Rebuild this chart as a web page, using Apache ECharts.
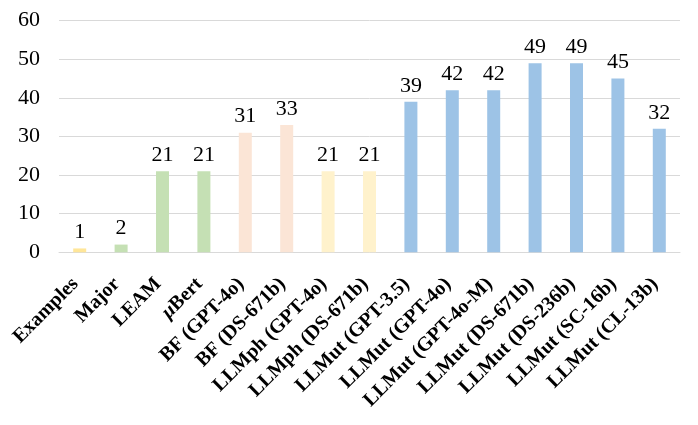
<!DOCTYPE html>
<html><head><meta charset="utf-8">
<script src="https://cdn.jsdelivr.net/npm/echarts@6/dist/echarts.min.js"></script>
<style>html,body{margin:0;padding:0;background:#fff}#c{width:698px;height:425px}</style>
</head><body><div id="c"></div>
<script>
const categories = ["Examples","Major","LEAM","μBert","BF (GPT-4o)","BF (DS-671b)","LLMph (GPT-4o)","LLMph (DS-671b)","LLMut (GPT-3.5)","LLMut (GPT-4o)","LLMut (GPT-4o-M)","LLMut (DS-671b)","LLMut (DS-236b)","LLMut (SC-16b)","LLMut (CL-13b)"];
const values = [1,2,21,21,31,33,21,21,39,42,42,49,49,45,32];
const barColors = ["#FFE699","#C5E0B4","#C5E0B4","#C5E0B4","#FBE5D6","#FBE5D6","#FFF2CC","#FFF2CC","#9DC3E6","#9DC3E6","#9DC3E6","#9DC3E6","#9DC3E6","#9DC3E6","#9DC3E6"];
const yTicks = [0,10,20,30,40,50,60];

const chart = echarts.init(document.getElementById('c'), null, {renderer:'canvas'});
chart.setOption({
  animation:false,
  grid:{left:59,right:18,top:20.7,bottom:172.7,containLabel:false},
  xAxis:{type:'category',data:categories,
    axisLine:{show:true,lineStyle:{color:'#d9d9d9',width:1}},
    axisTick:{show:false},
    axisLabel:{interval:0,rotate:45,margin:33,align:'right',verticalAlign:'bottom',lineHeight:12,color:'#000',fontFamily:'Liberation Serif',fontWeight:'bold',fontSize:20,
      formatter:function(v){ if(v.indexOf('μ')===0){return '{i|μ}'+v.slice(1);} return v; },
      rich:{i:{fontStyle:'italic',fontWeight:'bold',fontFamily:'Liberation Serif',fontSize:20,lineHeight:12,color:'#000'}}
    }},
  yAxis:{type:'value',min:yTicks[0],max:yTicks[yTicks.length-1],interval:10,
    axisLine:{show:false},axisTick:{show:false},
    splitLine:{lineStyle:{color:'#d9d9d9',width:1}},
    axisLabel:{color:'#000',fontFamily:'Liberation Serif',fontSize:22,margin:19}},
  series:[{type:'bar',barWidth:13,
    data:values.map((v,i)=>({value:v,itemStyle:{color:barColors[i]}})),
    label:{show:true,position:'top',distance:5,color:'#000',fontFamily:'Liberation Serif',fontSize:22}}]
});
</script></body></html>
